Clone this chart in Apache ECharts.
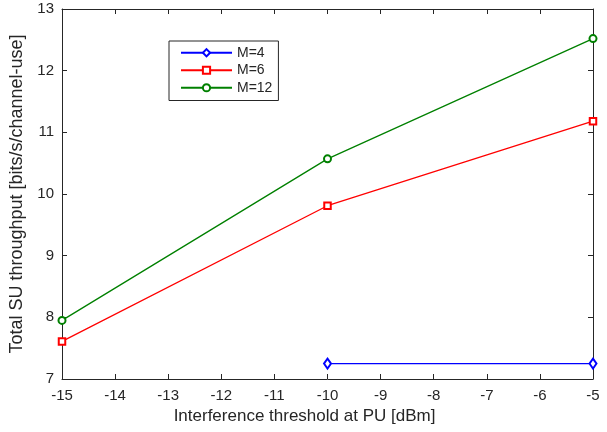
<!DOCTYPE html>
<html>
<head>
<meta charset="utf-8">
<script src="https://cdn.jsdelivr.net/npm/echarts@6/dist/echarts.min.js"></script>
<style>
  html, body { margin: 0; padding: 0; background: #fff; }
  #chart { width: 607px; height: 432px; }
</style>
</head>
<body>
<div id="chart"></div>
<script>
// Interference threshold at the primary user (dBm)
const thresholds = [-15, -10, -5];
// Total secondary-user throughput per number of antennas M
const m4 = [null, 7.25, 7.25];
const m6 = [7.61, 9.81, 11.18];
const m12 = [7.95, 10.57, 12.52];
const seriesNames = ['M=4', 'M=6', 'M=12'];

const axisColor = '#262626';
const font = '"Liberation Sans", Arial, Helvetica, sans-serif';

function pairs(vals) {
  return thresholds.map((x, i) => [x, vals[i]]).filter(p => p[1] !== null);
}

const chart = echarts.init(document.getElementById('chart'), null, { renderer: 'canvas' });

const baseX = {
  type: 'value', min: -15, max: -5, interval: 1,
  axisLine: { show: true, onZero: false, lineStyle: { color: axisColor, width: 1 } },
  axisTick: { show: true, inside: true, length: 5, lineStyle: { color: axisColor } },
  splitLine: { show: false }
};
const baseY = {
  type: 'value', min: 7, max: 13, interval: 1,
  axisLine: { show: true, onZero: false, lineStyle: { color: axisColor, width: 1 } },
  axisTick: { show: true, inside: true, length: 5, lineStyle: { color: axisColor } },
  splitLine: { show: false }
};

chart.setOption({
  animation: false,
  backgroundColor: '#fff',
  grid: { left: 62, right: 14, top: 9, bottom: 53 },
  xAxis: [
    Object.assign({}, baseX, {
      position: 'bottom',
      name: 'Interference threshold at PU [dBm]',
      nameLocation: 'middle', nameGap: 28,
      // extra right padding nudges the title slightly left of the axis centre
      nameTextStyle: { color: axisColor, fontFamily: font, fontSize: 17, padding: [0, 46, 0, 0] },
      axisLabel: { color: axisColor, fontFamily: font, fontSize: 15, margin: 9 }
    }),
    Object.assign({}, baseX, { position: 'top', axisLabel: { show: false } })
  ],
  yAxis: [
    Object.assign({}, baseY, {
      position: 'left',
      name: 'Total SU throughput [bits/s/channel-use]',
      nameLocation: 'middle', nameGap: 31,
      nameTextStyle: { color: axisColor, fontFamily: font, fontSize: 18 },
      axisLabel: { color: axisColor, fontFamily: font, fontSize: 15, margin: 8 }
    }),
    Object.assign({}, baseY, { position: 'right', axisLabel: { show: false } })
  ],
  legend: {
    orient: 'vertical',
    left: 169, top: 41,
    padding: [3, 6, 4, 11],
    itemGap: 0,
    itemWidth: 51, itemHeight: 9,
    borderColor: axisColor, borderWidth: 1,
    backgroundColor: '#fff',
    textStyle: { color: axisColor, fontFamily: font, fontSize: 14, lineHeight: 17.5 },
    data: seriesNames
  },
  series: [
    {
      name: seriesNames[0], type: 'line', data: pairs(m4),
      color: '#0000ff', lineStyle: { width: 1.3 },
      symbol: 'emptyDiamond', symbolSize: [7, 10],
      itemStyle: { borderWidth: 1.3 }
    },
    {
      name: seriesNames[1], type: 'line', data: pairs(m6),
      color: '#ff0000', lineStyle: { width: 1.3 },
      symbol: 'emptyRect', symbolSize: 6.5,
      itemStyle: { borderWidth: 1.3 }
    },
    {
      name: seriesNames[2], type: 'line', data: pairs(m12),
      color: '#008000', lineStyle: { width: 1.3 },
      symbol: 'emptyCircle', symbolSize: 7,
      itemStyle: { borderWidth: 1.3 }
    }
  ]
});
</script>
</body>
</html>
